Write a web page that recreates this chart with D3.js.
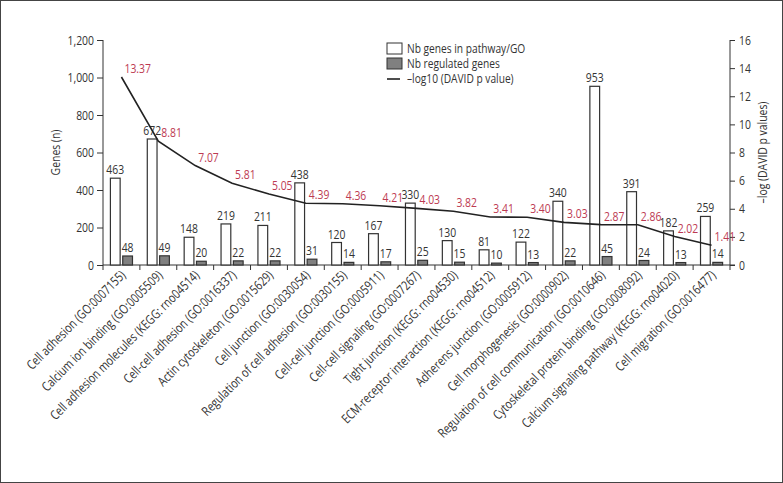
<!DOCTYPE html>
<html><head><meta charset="utf-8">
<script src="https://cdn.jsdelivr.net/npm/d3@7"></script>
<style>
body{margin:0;background:#fff;}
text{font-family:"Open Sans",sans-serif;}
</style></head>
<body><svg id="c" width="783" height="483"></svg>
<script>
const categories = [
  "Cell adhesion (GO:0007155)",
  "Calcium ion binding (GO:0005509)",
  "Cell adhesion molecules (KEGG: rno04514)",
  "Cell-cell adhesion (GO:0016337)",
  "Actin cytoskeleton (GO:0015629)",
  "Cell junction (GO:0030054)",
  "Regulation of cell adhesion (GO:0030155)",
  "Cell-cell junction (GO:0005911)",
  "Cell-cell signaling (GO:0007267)",
  "Tight junction (KEGG: rno04530)",
  "ECM-receptor interaction (KEGG: rno04512)",
  "Adherens junction (GO:0005912)",
  "Cell morphogenesis (GO:0000902)",
  "Regulation of cell communication (GO:0010646)",
  "Cytoskeletal protein binding (GO:0008092)",
  "Calcium signaling pathway (KEGG: rno04020)",
  "Cell migration (GO:0016477)"
];
const genesInPathway = [463,672,148,219,211,438,120,167,330,130,81,122,340,953,391,182,259];
const regulatedGenes = [48,49,20,22,22,31,14,17,25,15,10,13,22,45,24,13,14];
const negLogP = [13.37,8.81,7.07,5.81,5.05,4.39,4.36,4.21,4.03,3.82,3.41,3.40,3.03,2.87,2.86,2.02,1.41];
const leftTicks = [0,200,400,600,800,1000,1200];
const rightTicks = [0,2,4,6,8,10,12,14,16];
const legendLabels = ["Nb genes in pathway/GO","Nb regulated genes","\u2013log10 (DAVID p value)"];

const svg = d3.select("#c");
const W=783,H=483;
const m = {left:103,right:53,top:40,bottom:218};
const x0 = m.left, x1 = W-m.right, yTop=m.top, yBot=H-m.bottom;
const axisColor="#333", redCol="#bd3a52", txtCol="#333";
const SX = 0.8, FS = 13;

function ctext(g, x, y, str, opts={}) {
  return g.append("text")
    .attr("transform",`translate(${x},${y})${opts.rot?` rotate(${opts.rot})`:""} scale(${opts.sx||SX},1)`)
    .attr("text-anchor",opts.anchor||"start")
    .attr("dy",opts.dy||null)
    .attr("fill",opts.fill||txtCol).style("font-size",(opts.fs||FS)+"px").text(str);
}

svg.append("rect").attr("x",0.5).attr("y",0.5).attr("width",W-1).attr("height",H-1)
  .attr("fill","none").attr("stroke","#444").attr("stroke-width",1);

const x = d3.scaleBand().domain(categories).range([x0,x1]).padding(0);
const xs = d3.scaleBand().domain(["a","b"]).range([0,x.bandwidth()]).paddingInner(0.21).paddingOuter(0.6);
const yL = d3.scaleLinear().domain([0,1200]).range([yBot,yTop]);
const yR = d3.scaleLinear().domain([0,16]).range([yBot,yTop]);
const fmt = d3.format(",");

const gL = svg.append("g").attr("transform",`translate(${x0},0)`)
  .call(d3.axisLeft(yL).tickValues(leftTicks).tickFormat(()=>"").tickSize(6));
const gR = svg.append("g").attr("transform",`translate(${x1},0)`)
  .call(d3.axisRight(yR).tickValues(rightTicks).tickFormat(()=>"").tickSize(5));
[gL,gR].forEach(g=>{
  g.select(".domain").attr("stroke",axisColor).attr("d",`M0,${yTop}V${yBot}`);
  g.selectAll(".tick line").attr("stroke",axisColor);
});
leftTicks.forEach(t=>ctext(svg, x0-9, yL(t), fmt(t), {anchor:"end", dy:"0.35em"}));
rightTicks.forEach(t=>ctext(svg, x1+9, yR(t), t, {dy:"0.35em"}));

const gX = svg.append("g").attr("transform",`translate(0,${yBot})`);
gX.append("line").attr("x1",x0).attr("x2",x1+5).attr("stroke",axisColor);
gX.selectAll("line.t").data(d3.range(categories.length+1)).join("line").attr("class","t")
  .attr("x1",i=>x0+i*x.bandwidth()).attr("x2",i=>x0+i*x.bandwidth())
  .attr("y1",0).attr("y2",5).attr("stroke",axisColor);
categories.forEach(c=>ctext(svg, x(c)+x.bandwidth()/2+5, yBot+11, c, {anchor:"end", rot:-45}));

const bars = svg.append("g");
categories.forEach((c,i)=>{
  const bx = x(c);
  bars.append("rect").attr("x",bx+xs("a")).attr("width",xs.bandwidth())
    .attr("y",yL(genesInPathway[i])).attr("height",yBot-yL(genesInPathway[i]))
    .attr("fill","#fff").attr("stroke","#333").attr("stroke-width",1.2);
  bars.append("rect").attr("x",bx+xs("b")).attr("width",xs.bandwidth())
    .attr("y",yL(regulatedGenes[i])).attr("height",yBot-yL(regulatedGenes[i]))
    .attr("fill","#808080").attr("stroke","#333").attr("stroke-width",1.2);
  ctext(bars, bx+xs("a")+xs.bandwidth()/2, yL(genesInPathway[i])-4, genesInPathway[i], {anchor:"middle"});
  ctext(bars, bx+xs("b")+xs.bandwidth()/2, yL(regulatedGenes[i])-4, regulatedGenes[i], {anchor:"middle"});
});

const cx = c=>x(c)+x.bandwidth()/2;
const line = d3.line().x((d,i)=>cx(categories[i])).y(d=>yR(d));
svg.append("path").datum(negLogP).attr("d",line).attr("fill","none")
  .attr("stroke","#222").attr("stroke-width",1.6);
const gl = svg.append("g");
negLogP.forEach((d,i)=>ctext(gl, cx(categories[i])+3, yR(d)-4, d.toFixed(2), {fill:redCol}));

ctext(svg, 60, (yTop+yBot)/2, "Genes (n)", {anchor:"middle", rot:-90});
ctext(svg, 767, (yTop+yBot)/2, "\u2013log (DAVID p values)", {anchor:"middle", rot:-90});

const lg = svg.append("g").attr("transform","translate(387,43)");
lg.append("rect").attr("width",15).attr("height",11).attr("fill","#fff").attr("stroke","#333");
lg.append("rect").attr("y",15).attr("width",15).attr("height",11).attr("fill","#808080").attr("stroke","#333");
lg.append("line").attr("x1",0).attr("x2",13).attr("y1",36).attr("y2",36).attr("stroke","#222").attr("stroke-width",1.6);
legendLabels.forEach((d,i)=>ctext(lg, 20, 10+i*15, d, {fs:12, sx:0.85}));
</script></body></html>
